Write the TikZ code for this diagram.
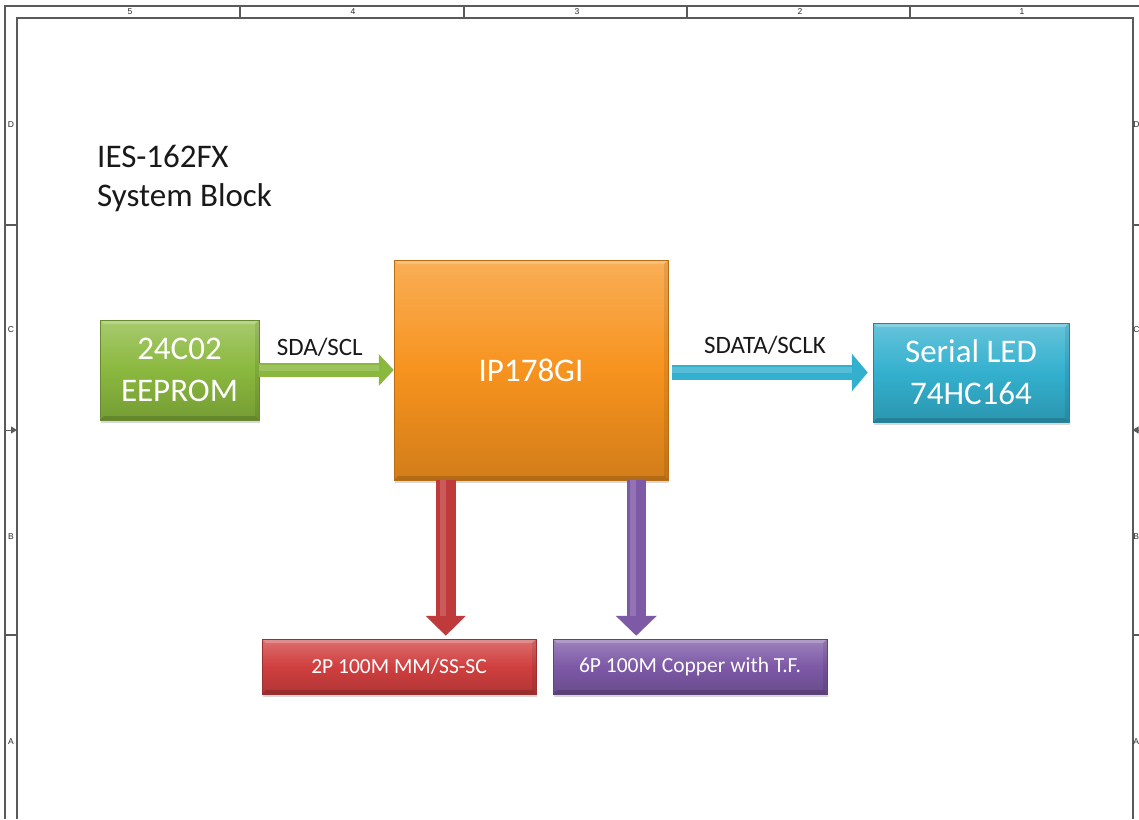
\documentclass[tikz,border=0pt]{standalone}
\usepackage{fontspec}
\setmainfont{Carlito}
\newfontfamily\framefont{Liberation Sans}
\usetikzlibrary{arrows.meta,shadows}
\definecolor{gbase}{HTML}{8AB83E}
\definecolor{obase}{HTML}{F7931E}
\definecolor{cbase}{HTML}{33B0CE}
\definecolor{rbase}{HTML}{D03F3F}
\definecolor{pbase}{HTML}{7D59A6}
\definecolor{framegray}{HTML}{5A5A5A}
\begin{document}
\begin{tikzpicture}[x=1pt,y=-1pt,
  frameline/.style={draw=framegray, line width=1.3pt},
  framelabel/.style={font=\framefont\fontsize{8.5}{9}\selectfont, text=black!85, inner sep=0pt},
  glossy/.style={shade, top color=#1!75!white, bottom color=#1!85!black, middle color=#1,
    draw=#1!75!black, line width=0.5pt, text=white, inner sep=0pt,
    drop shadow={opacity=0.3, shadow xshift=1pt, shadow yshift=-3pt},
    path picture={
      \fill[white,opacity=0.22] (path picture bounding box.north west) -- (path picture bounding box.north east)
        -- ([xshift=-4pt,yshift=-4pt]path picture bounding box.north east) -- ([xshift=4pt,yshift=-4pt]path picture bounding box.north west) -- cycle;
      \fill[black,opacity=0.15] (path picture bounding box.south west) -- (path picture bounding box.south east)
        -- ([xshift=-4pt,yshift=4pt]path picture bounding box.south east) -- ([xshift=4pt,yshift=4pt]path picture bounding box.south west) -- cycle;
      \fill[black,opacity=0.08] (path picture bounding box.north east) -- (path picture bounding box.south east)
        -- ([xshift=-4pt,yshift=4pt]path picture bounding box.south east) -- ([xshift=-4pt,yshift=-4pt]path picture bounding box.north east) -- cycle;
    }},
  highlight/.style={draw=white, opacity=0.17, line width=6pt},
  bigtext/.style={font=\fontsize{33}{42}\selectfont, align=center},
  smalltext/.style={font=\fontsize{21.5}{26}\selectfont},
  sigtext/.style={font=\fontsize{25}{30}\selectfont, text=black!90, inner sep=0pt, anchor=base},
  titletext/.style={font=\fontsize{33}{40}\selectfont, text=black!90, inner sep=0pt, anchor=base west}
]
\clip (0,0) rectangle (1139,819);
\fill[white] (0,0) rectangle (1139,819);

% ---------- drawing frame ----------
\draw[frameline] (5,819) -- (5,6) -- (1139,6);
\draw[frameline] (17,819) -- (17,18) -- (1133,18) -- (1133,819);
\foreach \x in {240,464,687,910} \draw[frameline] (\x,6) -- (\x,18);
\foreach \y in {225,635} {
  \draw[frameline] (5,\y) -- (17,\y);
  \draw[frameline] (1133,\y) -- (1139,\y);
}
\node[framelabel] (c5) at (130,12) {5};
\node[framelabel] (c4) at (353,12) {4};
\node[framelabel] (c3) at (577,12) {3};
\node[framelabel] (c2) at (800,12) {2};
\node[framelabel] (c1) at (1022,12) {1};
\node[framelabel] (rD) at (11,125) {D};
\node[framelabel] (rC) at (11,330) {C};
\node[framelabel] (rB) at (11,537) {B};
\node[framelabel] (rA) at (11,742) {A};
\node[framelabel] (sD) at (1136.3,125) {D};
\node[framelabel] (sC) at (1136.3,330) {C};
\node[framelabel] (sB) at (1136.3,537) {B};
\node[framelabel] (sA) at (1136.3,742) {A};
\coordinate (lmA) at (5,430);
\coordinate (lmB) at (17,430);
\coordinate (rmA) at (1139,430);
\coordinate (rmB) at (1132.5,430);
\draw[frameline, line width=1pt, -{Triangle[width=7pt,length=6pt]}] (lmA) -- (lmB);
\draw[frameline, line width=1pt, -{Triangle[width=7pt,length=6pt]}] (rmA) -- (rmB);

% ---------- title ----------
\node[titletext] (t1) at (97,167) {IES-162FX};
\node[titletext] (t2) at (97,206) {System Block};

% ---------- blocks ----------
\node[glossy=gbase, bigtext, minimum width=159pt, minimum height=100pt] (eeprom) at (179.5,370) {24C02\\EEPROM};
\node[glossy=obase, bigtext, minimum width=274pt, minimum height=220pt] (ip) at (531,370) {IP178GI};
\node[glossy=cbase, bigtext, minimum width=196pt, minimum height=99pt] (led) at (971,372.5) {Serial LED\\74HC164};
\node[glossy=rbase, smalltext, minimum width=274pt, minimum height=55pt] (fx) at (399,666.5) {2P 100M MM/SS-SC};
\node[glossy=pbase, smalltext, minimum width=274pt, minimum height=55pt] (cu) at (690,666.5) {6P 100M Copper with T.F.};

% ---------- connectors ----------
\draw[draw=gbase, line width=14pt, -{Triangle[width=31pt,length=15pt]}]
  (eeprom.east) -- (eeprom.east -| ip.west) node[sigtext, pos=0.45, yshift=15pt] (lab1) {SDA/SCL};
\draw[highlight] ([yshift=2.5pt]eeprom.east) -- ([xshift=-15pt,yshift=2.5pt]eeprom.east -| ip.west);
\draw[draw=cbase, line width=15pt, -{Triangle[width=37pt,length=16pt]}]
  ([xshift=4pt]ip.east |- led.west) -- ([xshift=-5pt]led.west) node[sigtext, pos=0.474, yshift=19pt] (lab2) {SDATA/SCLK};
\draw[highlight] ([xshift=4pt,yshift=2.5pt]ip.east |- led.west) -- ([xshift=-21pt,yshift=2.5pt]led.west);
\coordinate (rstart) at ([xshift=52pt]ip.south west);
\coordinate (pstart) at ([xshift=-32pt]ip.south east);
\draw[draw=rbase!92!black, line width=20pt, -{Triangle[width=39pt,length=20pt]}, shorten >=3pt]
  (rstart) -- (rstart |- fx.north);
\draw[highlight] ([xshift=-3pt]rstart) -- ([xshift=-3pt,yshift=23pt]rstart |- fx.north);
\draw[draw=pbase, line width=19pt, -{Triangle[width=40pt,length=20pt]}, shorten >=3pt]
  (pstart) -- (pstart |- cu.north);
\draw[highlight] ([xshift=-3pt]pstart) -- ([xshift=-3pt,yshift=23pt]pstart |- cu.north);
\end{tikzpicture}
\end{document}
